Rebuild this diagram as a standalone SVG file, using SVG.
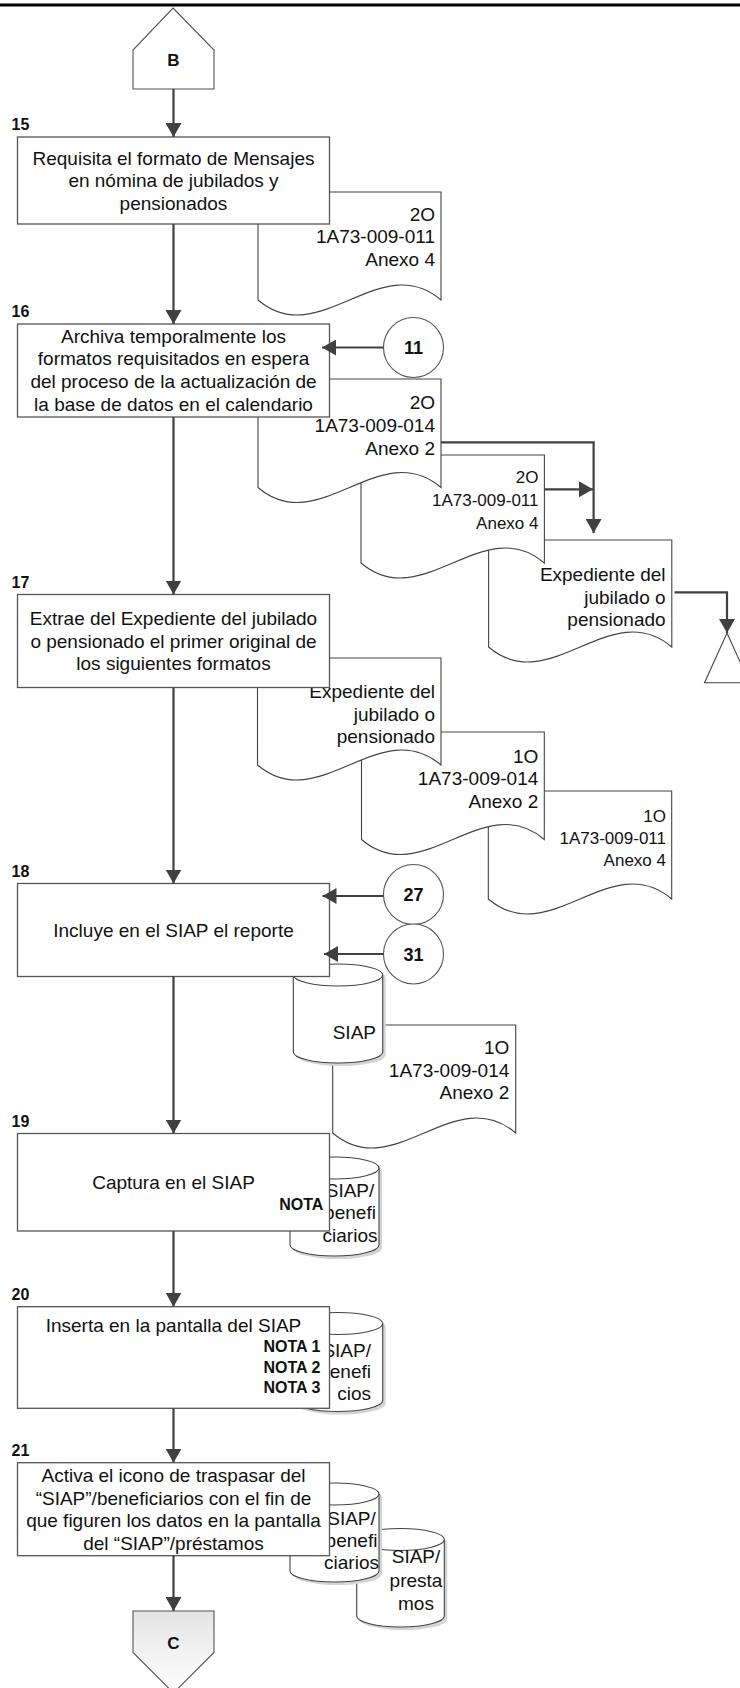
<svg xmlns="http://www.w3.org/2000/svg" width="740" height="1688" viewBox="0 0 740 1688">
<style>
  .box{fill:#fff;stroke:#555;stroke-width:1.3}
  .doc{fill:#fff;stroke:#444;stroke-width:1.1}
  .cyl{fill:#fff;stroke:#444;stroke-width:1.1}
  .shd{fill:#d4d4d4;stroke:none}
  .circ{fill:#fff;stroke:#555;stroke-width:1.1}
  .t{font-family:"Liberation Sans",Arial,sans-serif;font-size:19px;fill:#111}
  .tc{font-family:"Liberation Sans",Arial,sans-serif;font-size:17px;fill:#111}
  .mid{text-anchor:middle}
  .end{text-anchor:end}
  .lbl{font-family:"Liberation Sans",Arial,sans-serif;font-size:16px;font-weight:bold;fill:#111}
  .nota{font-family:"Liberation Sans",Arial,sans-serif;font-size:16px;font-weight:bold;fill:#111}
  .num{font-family:"Liberation Sans",Arial,sans-serif;font-size:18px;font-weight:bold;fill:#111;text-anchor:middle}
  .conn{fill:none;stroke:#404040;stroke-width:2.2}
</style>
<defs>
  <marker id="ah" markerUnits="userSpaceOnUse" markerWidth="14" markerHeight="16" viewBox="0 0 14 16" refX="14" refY="8" orient="auto">
    <path d="M0,0 L14,8 L0,16 Z" fill="#404040"/>
  </marker>
  <linearGradient id="gc" x1="0" y1="0" x2="0" y2="1">
    <stop offset="0" stop-color="#e4e4e4"/>
    <stop offset="1" stop-color="#ffffff"/>
  </linearGradient>
</defs>

<line x1="0" y1="5" x2="740" y2="5" stroke="#000" stroke-width="3"/>

<!-- documents (back to front) -->
<g id="doc16c">
  <path class="doc" d="M488.6,540 H671.8 V647 C610.7,595 549.7,699 488.6,647 Z"/>
  <text class="t end" x="665.6" y="581">Expediente del</text>
  <text class="t end" x="665.6" y="603.5">jubilado o</text>
  <text class="t end" x="665.6" y="626">pensionado</text>
</g>
<g id="doc16b">
  <path class="doc" d="M361,455 H544.4 V563 C483.3,511 422.1,615 361,563 Z"/>
  <text class="tc end" x="538.5" y="483.3">2O</text>
  <text class="tc end" x="538.5" y="506">1A73-009-011</text>
  <text class="tc end" x="538.5" y="529">Anexo 4</text>
</g>
<g id="doc16a">
  <path class="doc" d="M258,379 H441 V487.5 C380,435.5 319,539.5 258,487.5 Z"/>
  <text class="t end" x="435" y="409">2O</text>
  <text class="t end" x="435" y="431.7">1A73-009-014</text>
  <text class="t end" x="435" y="454.5">Anexo 2</text>
</g>
<g id="doc15">
  <path class="doc" d="M258,192 H441 V300 C380,248 319,352 258,300 Z"/>
  <text class="t end" x="435" y="220.5">2O</text>
  <text class="t end" x="435" y="243.3">1A73-009-011</text>
  <text class="t end" x="435" y="266">Anexo 4</text>
</g>
<g id="doc17c">
  <path class="doc" d="M488.3,791 H671.7 V899 C610.6,847 549.4,951 488.3,899 Z"/>
  <text class="tc end" x="666" y="821.7">1O</text>
  <text class="tc end" x="666" y="843.5">1A73-009-011</text>
  <text class="tc end" x="666" y="865.7">Anexo 4</text>
</g>
<g id="doc17b">
  <path class="doc" d="M361.5,732 H544.3 V839.5 C483.4,787.5 422.4,891.5 361.5,839.5 Z"/>
  <text class="t end" x="538.3" y="762.5">1O</text>
  <text class="t end" x="538.3" y="785">1A73-009-014</text>
  <text class="t end" x="538.3" y="807.5">Anexo 2</text>
</g>
<g id="doc17a">
  <path class="doc" d="M257.5,658 H441 V765 C379.8,713 318.7,817 257.5,765 Z"/>
  <text class="t end" x="435" y="698">Expediente del</text>
  <text class="t end" x="435" y="720.7">jubilado o</text>
  <text class="t end" x="435" y="743.4">pensionado</text>
</g>
<g id="doc18">
  <path class="doc" d="M332.7,1025 H515.7 V1133 C454.7,1081 393.7,1185 332.7,1133 Z"/>
  <text class="t end" x="509.3" y="1054">1O</text>
  <text class="t end" x="509.3" y="1076.7">1A73-009-014</text>
  <text class="t end" x="509.3" y="1099.3">Anexo 2</text>
</g>

<!-- cylinders -->
<g id="db-siap">
  <path class="shd" d="M296.3,978 A44.7,11 0 0 1 385.7,978 V1055 A44.7,11 0 0 1 296.3,1055 Z"/>
  <path class="cyl" d="M293.3,975 A44.7,11 0 0 1 382.7,975 V1052 A44.7,11 0 0 1 293.3,1052 Z"/>
  <path class="cyl" d="M293.3,975 A44.7,11 0 0 0 382.7,975" fill="none"/>
  <text class="t end" x="376" y="1039.3">SIAP</text>
</g>
<g id="db19">
  <path class="shd" d="M293,1171 A44.5,11 0 0 1 382,1171 V1248 A44.5,11 0 0 1 293,1248 Z"/>
  <path class="cyl" d="M290,1168 A44.5,11 0 0 1 379,1168 V1245 A44.5,11 0 0 1 290,1245 Z"/>
  <path class="cyl" d="M290,1168 A44.5,11 0 0 0 379,1168" fill="none"/>
  <text class="t mid" x="350" y="1196.5">SIAP/</text>
  <text class="t mid" x="350" y="1219">benefi</text>
  <text class="t mid" x="350" y="1241.5">ciarios</text>
</g>
<g id="db20">
  <path class="shd" d="M296,1326.5 A44.8,11 0 0 1 385.7,1326.5 V1403.5 A44.8,11 0 0 1 296,1403.5 Z"/>
  <path class="cyl" d="M293,1323.5 A44.8,11 0 0 1 382.7,1323.5 V1400.5 A44.8,11 0 0 1 293,1400.5 Z"/>
  <path class="cyl" d="M293,1323.5 A44.8,11 0 0 0 382.7,1323.5" fill="none"/>
  <text class="t end" x="371" y="1356.7">SIAP/</text>
  <text class="t end" x="371" y="1378.3">benefi</text>
  <text class="t end" x="371" y="1400">cios</text>
</g>
<g id="db21b">
  <path class="shd" d="M359.7,1542.5 A43.8,11 0 0 1 447.3,1542.5 V1619 A43.8,11 0 0 1 359.7,1619 Z"/>
  <path class="cyl" d="M356.7,1539.5 A43.8,11 0 0 1 444.3,1539.5 V1616 A43.8,11 0 0 1 356.7,1616 Z"/>
  <path class="cyl" d="M356.7,1539.5 A43.8,11 0 0 0 444.3,1539.5" fill="none"/>
  <text class="t mid" x="416" y="1563.3">SIAP/</text>
  <text class="t mid" x="416" y="1586.7">presta</text>
  <text class="t mid" x="416" y="1610">mos</text>
</g>
<g id="db21a">
  <path class="shd" d="M293,1497 A44.5,11 0 0 1 382,1497 V1574 A44.5,11 0 0 1 293,1574 Z"/>
  <path class="cyl" d="M290,1494 A44.5,11 0 0 1 379,1494 V1571 A44.5,11 0 0 1 290,1571 Z"/>
  <path class="cyl" d="M290,1494 A44.5,11 0 0 0 379,1494" fill="none"/>
  <text class="t mid" x="351.5" y="1525">SIAP/</text>
  <text class="t mid" x="351.5" y="1547">benefi</text>
  <text class="t mid" x="351.5" y="1569.3">ciarios</text>
</g>

<!-- off-page connectors -->
<g id="connB">
  <path d="M173,8 L214,50 V89 H133 V50 Z" fill="#fff" stroke="#555" stroke-width="1.1"/>
  <text class="lbl mid" x="173.5" y="66" style="font-size:17px">B</text>
</g>
<g id="connC">
  <path d="M133,1611 H214 V1652.5 L173.5,1693 L133,1652.5 Z" fill="url(#gc)" stroke="#555" stroke-width="1.1"/>
  <text class="lbl mid" x="173.5" y="1648.5" style="font-size:17px">C</text>
</g>

<!-- archive triangle -->
<g id="archive">
  <path d="M727,633 L749.5,682.7 H704.5 Z" fill="#fff" stroke="#444" stroke-width="1.1"/>
</g>

<!-- process boxes -->
<g id="step15">
  <text class="lbl" x="11.5" y="130">15</text>
  <rect class="box" x="17.5" y="137" width="312" height="87"/>
  <text class="t mid" x="173.5" y="164.5">Requisita el formato de Mensajes</text>
  <text class="t mid" x="173.5" y="187.3">en nómina de jubilados y</text>
  <text class="t mid" x="173.5" y="210.1">pensionados</text>
</g>
<g id="step16">
  <text class="lbl" x="11.5" y="317">16</text>
  <rect class="box" x="17.5" y="324" width="312" height="93"/>
  <text class="t mid" x="173.5" y="342.5">Archiva temporalmente los</text>
  <text class="t mid" x="173.5" y="365.3">formatos requisitados en espera</text>
  <text class="t mid" x="173.5" y="388.1">del proceso de la actualización de</text>
  <text class="t mid" x="173.5" y="410.9">la base de datos en el calendario</text>
</g>
<g id="step17">
  <text class="lbl" x="11.5" y="587.5">17</text>
  <rect class="box" x="17.5" y="594.5" width="312" height="93"/>
  <text class="t mid" x="173.5" y="624.7">Extrae del Expediente del jubilado</text>
  <text class="t mid" x="173.5" y="647.5">o pensionado el primer original de</text>
  <text class="t mid" x="173.5" y="670.3">los siguientes formatos</text>
</g>
<g id="step18">
  <text class="lbl" x="11.5" y="876.5">18</text>
  <rect class="box" x="17.5" y="883.5" width="312" height="93"/>
  <text class="t mid" x="173.5" y="936.8">Incluye en el SIAP el reporte</text>
</g>
<g id="step19">
  <text class="lbl" x="11.5" y="1126.5">19</text>
  <rect class="box" x="17.5" y="1133.5" width="312" height="97.5"/>
  <text class="t mid" x="173.5" y="1189">Captura en el SIAP</text>
  <text class="nota end" x="323.3" y="1210">NOTA</text>
</g>
<g id="step20">
  <text class="lbl" x="11.5" y="1299.7">20</text>
  <rect class="box" x="17.5" y="1306.7" width="312" height="101.6"/>
  <text class="t mid" x="173.5" y="1331.7">Inserta en la pantalla del SIAP</text>
  <text class="nota" x="263.5" y="1351.7">NOTA 1</text>
  <text class="nota" x="263.5" y="1372.7">NOTA 2</text>
  <text class="nota" x="263.5" y="1393.3">NOTA 3</text>
</g>
<g id="step21">
  <text class="lbl" x="11.5" y="1455.7">21</text>
  <rect class="box" x="17.5" y="1462.7" width="312" height="93"/>
  <text class="t mid" x="173.5" y="1481.8">Activa el icono de traspasar del</text>
  <text class="t mid" x="173.5" y="1504.6">“SIAP”/beneficiarios con el fin de</text>
  <text class="t mid" x="173.5" y="1527.4">que figuren los datos en la pantalla</text>
  <text class="t mid" x="173.5" y="1550.2">del “SIAP”/préstamos</text>
</g>

<!-- on-page connectors (circles) -->
<g id="ref11">
  <circle class="circ" cx="413.5" cy="347.5" r="30"/>
  <text class="num" x="413.5" y="354">11</text>
</g>
<g id="ref27">
  <circle class="circ" cx="413.5" cy="894.5" r="30"/>
  <text class="num" x="413.5" y="901">27</text>
</g>
<g id="ref31">
  <circle class="circ" cx="413.5" cy="954" r="30"/>
  <text class="num" x="413.5" y="960.5">31</text>
</g>

<!-- connectors -->
<g id="connectors">
  <line class="conn" x1="173.5" y1="89" x2="173.5" y2="137" marker-end="url(#ah)"/>
  <line class="conn" x1="173.5" y1="224" x2="173.5" y2="324" marker-end="url(#ah)"/>
  <line class="conn" x1="173.5" y1="417" x2="173.5" y2="594.5" marker-end="url(#ah)"/>
  <line class="conn" x1="173.5" y1="687.5" x2="173.5" y2="883.5" marker-end="url(#ah)"/>
  <line class="conn" x1="173.5" y1="976.5" x2="173.5" y2="1133.5" marker-end="url(#ah)"/>
  <line class="conn" x1="173.5" y1="1231" x2="173.5" y2="1306.7" marker-end="url(#ah)"/>
  <line class="conn" x1="173.5" y1="1408.3" x2="173.5" y2="1462.7" marker-end="url(#ah)"/>
  <line class="conn" x1="173.5" y1="1555.7" x2="173.5" y2="1611" marker-end="url(#ah)"/>
  <line class="conn" x1="383.5" y1="347.5" x2="322" y2="347.5" marker-end="url(#ah)"/>
  <line class="conn" x1="383.5" y1="896" x2="322.5" y2="896" marker-end="url(#ah)"/>
  <line class="conn" x1="383.5" y1="954" x2="324" y2="954" marker-end="url(#ah)"/>
  <polyline class="conn" points="441,442.3 593.6,442.3 593.6,533" marker-end="url(#ah)"/>
  <line class="conn" x1="544.4" y1="489.3" x2="593" y2="489.3" marker-end="url(#ah)"/>
  <polyline class="conn" points="674.5,592.3 727,592.3 727,633" marker-end="url(#ah)"/>
</g>
</svg>
